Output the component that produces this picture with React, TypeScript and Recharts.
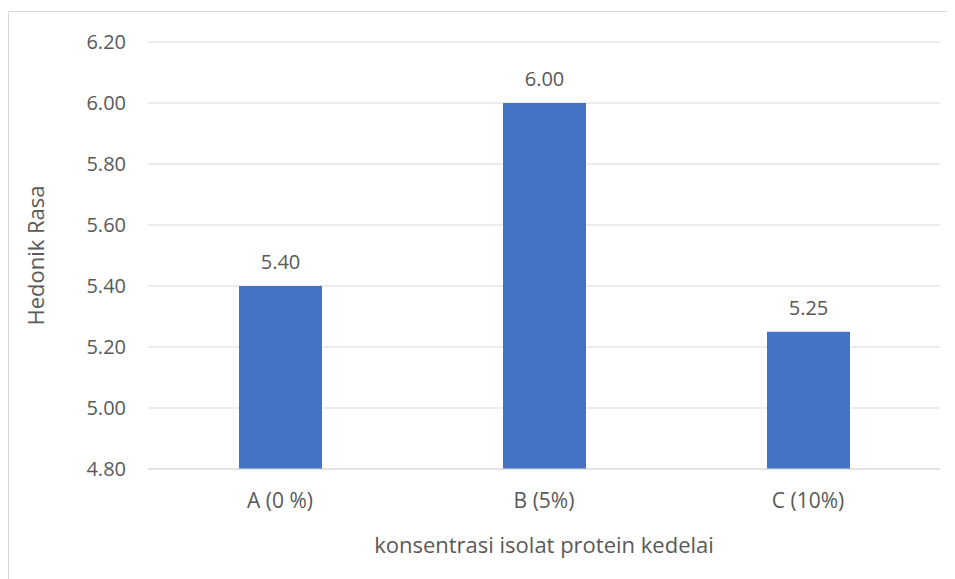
import React from 'react';
import { BarChart, Bar, XAxis, YAxis, CartesianGrid, LabelList, Label } from 'recharts';

const categories = ['A (0 %)', 'B (5%)', 'C (10%)'];
const hedonikRasa = [5.4, 6.0, 5.25];
const yTicks = [4.8, 5.0, 5.2, 5.4, 5.6, 5.8, 6.0, 6.2];

const data = categories.map((name, i) => ({ name, value: hedonikRasa[i] }));

const textColor = '#595959';
const gridColor = '#D9D9D9';
const font = '"Open Sans", sans-serif';

const YTitle = ({ viewBox }: any) => {
  const x = viewBox.x + 26;
  const y = viewBox.y + viewBox.height / 2;
  return (
    <text
      x={x}
      y={y}
      transform={`rotate(-90, ${x}, ${y})`}
      textAnchor="middle"
      dominantBaseline="central"
      fill={textColor}
      fontSize={22}
      fontFamily={font}
    >
      Hedonik Rasa
    </text>
  );
};

const App = () => {
  return (
    <div
      style={{
        marginTop: 3,
        width: 946,
        height: 567,
        borderLeft: `1px solid ${gridColor}`,
        borderTop: `1px solid ${gridColor}`,
        overflow: 'hidden',
        fontFamily: font,
      }}
    >
      <BarChart
        width={946}
        height={568}
        data={data}
        margin={{ top: 30, right: 15, bottom: 0, left: 0 }}
      >
        <CartesianGrid vertical={false} stroke={gridColor} />
        <XAxis
          dataKey="name"
          height={111}
          tickLine={false}
          axisLine={{ stroke: gridColor }}
          tickSize={0}
          tickMargin={24}
          tick={{ fill: textColor, fontSize: 21, fontFamily: font }}
        >
          <Label
            value="konsentrasi isolat protein kedelai"
            position="insideBottom"
            offset={27}
            fill={textColor}
            fontSize={22}
            fontFamily={font}
          />
        </XAxis>
        <YAxis
          width={139}
          domain={[4.8, 6.2]}
          ticks={yTicks}
          interval={0}
          tickFormatter={(v: number) => v.toFixed(2)}
          tickLine={false}
          axisLine={false}
          tickSize={0}
          tickMargin={22}
          tick={{ fill: textColor, fontSize: 20, fontFamily: font }}
          allowDataOverflow
        >
          <Label content={YTitle} />
        </YAxis>
        <Bar dataKey="value" fill="#4472C4" barSize={83} isAnimationActive={false}>
          <LabelList
            dataKey="value"
            position="top"
            offset={17}
            formatter={(v: any) => Number(v).toFixed(2)}
            fill={textColor}
            fontSize={20}
            fontFamily={font}
          />
        </Bar>
      </BarChart>
    </div>
  );
};

export default App;
